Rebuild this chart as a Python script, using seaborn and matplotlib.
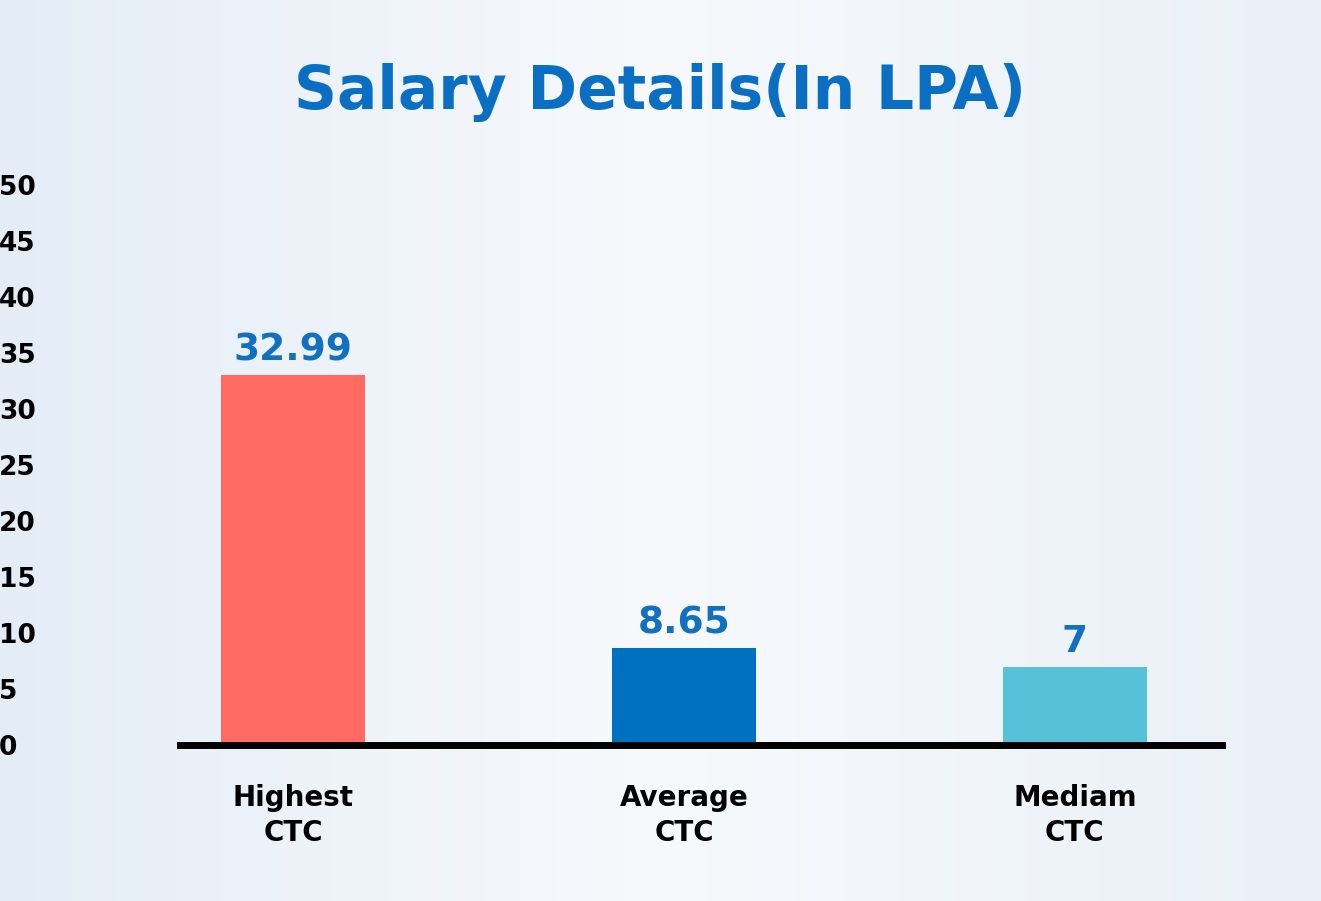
import numpy as np
import pandas as pd
import matplotlib
matplotlib.use("Agg")
import matplotlib.pyplot as plt
import seaborn as sns

categories = ["Highest\nCTC", "Average\nCTC", "Mediam\nCTC"]
values = [32.99, 8.65, 7]
value_labels = ["32.99", "8.65", "7"]
bar_colors = ["#ff6b63", "#0070c0", "#56c1d9"]
yticks = list(range(0, 55, 5))

df = pd.DataFrame({"cat": categories, "val": values})

fig = plt.figure(figsize=(13.21, 9.01), dpi=100)
# soft background gradient
bg = fig.add_axes([0, 0, 1, 1], zorder=-10)
grad = np.linspace(0, 1, 256).reshape(1, -1)
bg.imshow(grad, aspect="auto", cmap=matplotlib.colors.LinearSegmentedColormap.from_list(
    "bg", ["#e4edf6", "#f7f9fc", "#e9f0f7"]), extent=[0, 1, 0, 1])
bg.axis("off")

ax = fig.add_axes([0.136, 0.173, 0.789, 0.627])
ax.patch.set_alpha(0)
sns.barplot(data=df, x="cat", y="val", hue="cat", palette=bar_colors,
            width=0.37, legend=False, ax=ax, saturation=1)

for i, (v, lab) in enumerate(zip(values, value_labels)):
    ax.text(i, v + 0.6, lab, ha="center", va="bottom", color="#1170c0",
            fontsize=27, fontweight="bold")

ax.set_xlim(-0.29, 2.376)
ax.set_ylim(0, 50.4)
ax.set_yticks(yticks)
ax.set_yticklabels([str(t) for t in yticks], fontsize=19, fontweight="bold")
ax.tick_params(axis="y", length=0, pad=130)
for t in ax.get_yticklabels():
    t.set_horizontalalignment("left")
    t.set_y(t.get_position()[1])
ax.tick_params(axis="x", length=0, pad=28)
for t in ax.get_xticklabels():
    t.set_fontsize(20)
    t.set_fontweight("bold")
    t.set_linespacing(1.3)
ax.set_xlabel("")
ax.set_ylabel("")
for s in ["top", "right", "left"]:
    ax.spines[s].set_visible(False)
ax.spines["bottom"].set_linewidth(5)
ax.spines["bottom"].set_color("black")

fig.text(0.5, 0.897, "Salary Details(In LPA)", ha="center", va="center",
         fontsize=43, fontweight="bold", color="#0a6fc2")

fig.savefig("out.png", dpi=100)
